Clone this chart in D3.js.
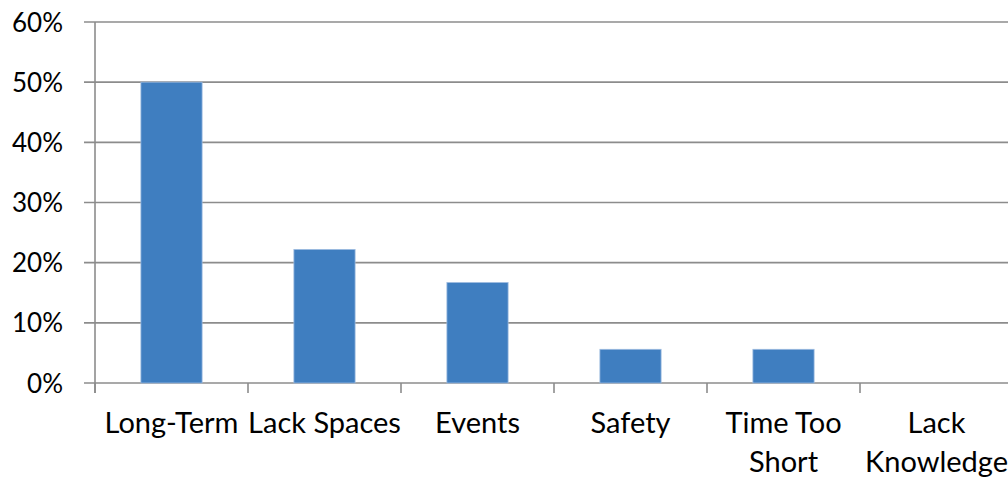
<!DOCTYPE html>
<html><head><meta charset="utf-8">
<script src="https://cdn.jsdelivr.net/npm/d3@7"></script>
<style>html,body{margin:0;padding:0;background:#fff;overflow:hidden}text{font-family:Lato,"Open Sans",sans-serif;fill:#000}</style>
</head><body><svg id="c" width="1008" height="478"></svg>
<script>
const categories = ["Long-Term","Lack Spaces","Events","Safety","Time Too Short","Lack Knowledge"];
const categoryLines = [["Long-Term"],["Lack Spaces"],["Events"],["Safety"],["Time Too","Short"],["Lack","Knowledge"]];
const values = [0.50,0.222,0.167,0.056,0.056,0];
const yTicks = [0,0.1,0.2,0.3,0.4,0.5,0.6];

const svg = d3.select("#c");
const x0 = 95, x1 = 1013, yTop = 22, yBot = 383;
const x = d3.scaleBand().domain(categories).range([x0,x1]).paddingInner(0.6).paddingOuter(0.3);
const y = d3.scaleLinear().domain([0,0.6]).range([yBot,yTop]);
const step = x.step();

// gridlines + y ticks
svg.append("g").selectAll("line").data(yTicks).join("line")
  .attr("x1",84).attr("x2",1008).attr("y1",d=>y(d)).attr("y2",d=>y(d))
  .attr("stroke","#8c8c8c").attr("stroke-width",1.6);
// y axis line
svg.append("line").attr("x1",x0).attr("x2",x0).attr("y1",yTop).attr("y2",393)
  .attr("stroke","#8c8c8c").attr("stroke-width",1.6);
// category ticks
svg.append("g").selectAll("line").data(d3.range(categories.length+1)).join("line")
  .attr("x1",i=>x0+i*step).attr("x2",i=>x0+i*step).attr("y1",yBot).attr("y2",393)
  .attr("stroke","#8c8c8c").attr("stroke-width",1.6);

// bars
svg.append("g").selectAll("rect").data(values).join("rect")
  .attr("x",(d,i)=>x(categories[i])).attr("width",x.bandwidth())
  .attr("y",d=>y(d)).attr("height",d=>yBot-y(d))
  .attr("fill","#3f7ec0").attr("stroke","#9dbbe0").attr("stroke-width",d=>d>0?0.8:0);

// y labels
svg.append("g").selectAll("text").data(yTicks).join("text")
  .attr("x",63).attr("y",d=>y(d)+9.5).attr("text-anchor","end")
  .attr("font-size",26).text(d=>d3.format(".0%")(d));

// x labels
const xl = svg.append("g").selectAll("text").data(categories).join("text")
  .attr("text-anchor","middle").attr("font-size",29)
  .attr("transform",d=>`translate(${x(d)+x.bandwidth()/2},433)`);
xl.each(function(d,i){
  d3.select(this).selectAll("tspan").data(categoryLines[i]).join("tspan")
    .attr("x",0).attr("y",(t,j)=>j*39).text(t=>t);
});
</script></body></html>
